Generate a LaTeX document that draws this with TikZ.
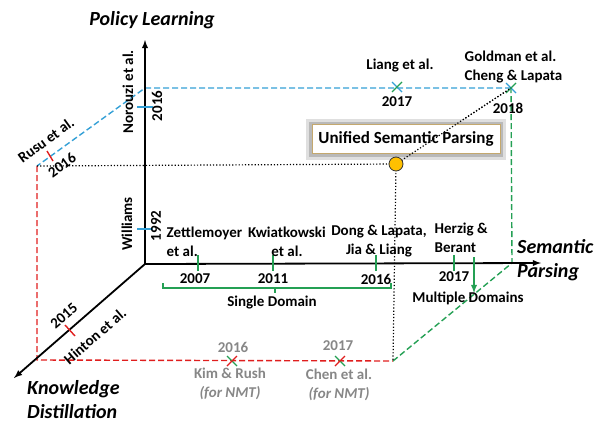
\documentclass[tikz,border=0pt]{standalone}
\usepackage{fontspec}
\setmainfont{Carlito}
\usepackage{tikz}
\usetikzlibrary{arrows}
\definecolor{plblue}{RGB}{52,160,214}
\definecolor{spgreen}{RGB}{36,160,84}
\definecolor{kdred}{RGB}{224,30,30}
\definecolor{ngray}{RGB}{135,135,135}
\definecolor{gold}{RGB}{255,192,0}
\definecolor{boxtan}{RGB}{196,168,110}
\newcommand{\xmark}[3]{% crossing mark at node #1, strokes in #2 and #3
  \draw[#2, line width=1.3pt] ([shift={(-5,-5)}]#1) -- ([shift={(5,5)}]#1);
  \draw[#3, line width=1.3pt] ([shift={(-5,5)}]#1) -- ([shift={(5,-5)}]#1);}
\tikzset{
  lbl/.style={font=\fontsize{15}{19}\selectfont\bfseries, inner sep=0.5pt},
  axlbl/.style={font=\fontsize{20}{24}\selectfont\bfseries\itshape, inner sep=0pt, align=left},
  nmt/.style={lbl, text=ngray},
  axis/.style={-latex, line width=1.8pt},
  dsh/.style={line width=1.4pt, dash pattern=on 6pt off 3pt},
  tick/.style={line width=1.4pt}
}
\begin{document}
\begin{tikzpicture}[x=1pt, y=-1pt]
\useasboundingbox (0,0) rectangle (602,423);
% corners of the box
\coordinate (O) at (145,264);
\coordinate (pl) at (145,40);
\coordinate (sp) at (541,263);
\coordinate (kd) at (14,378);
\coordinate (b1) at (145,88);
\coordinate (b2) at (37,166);
\coordinate (r2) at (37,360);
\coordinate (g1) at (393,361);
\coordinate (g2) at (512,263);
\coordinate (top) at (511,88);
\coordinate (usp) at (396,164);
\coordinate (liangx) at (397,87);
\coordinate (kimx) at (232,361);
\coordinate (chenx) at (340,361);

% dashed frame
\draw[dsh, plblue] (top) -- (b1) -- (b2);
\draw[dsh, kdred] (b2) -- (r2) -- (g1);
\draw[dsh, spgreen] (g1) -- (g2) -- (top);
\draw[dotted, line width=1.2pt] (b2) -- (usp) -- (g1) (usp) -- (top);

% axes
\draw[axis] (O) -- (pl);
\draw[axis] (O) -- (sp);
\draw[axis] (O) -- (kd);
\node[axlbl] (plab) at (152,20) {Policy Learning};
\node[axlbl, anchor=west] (splab) at (517,260) {Semantic\\Parsing};
\node[axlbl, anchor=west] (kdlab) at (27,400) {Knowledge\\Distillation};

% policy learning axis
\draw[tick, plblue] (137,107) -- (153,107);
\draw[tick, plblue] (137,229) -- (153,229);
\node[lbl, rotate=90] (norouzi) at (128,92) {Norouzi et al.};
\node[lbl, rotate=90] (y16a) at (157,106) {2016};
\node[lbl, rotate=90] (williams) at (127,224) {Williams};
\node[lbl, rotate=90] (y92) at (156,226) {1992};

% semantic parsing axis
\foreach \xx in {198,273,376,454}
  \draw[tick, spgreen] (\xx,255) -- (\xx,271);
\node[lbl, align=left, anchor=west] (zettle) at (166,242) {Zettlemoyer\\et al.};
\node[lbl, align=center] (kwiat) at (287,242) {Kwiatkowski\\et al.};
\node[lbl, align=center] (dong) at (379,241) {Dong \& Lapata,\\Jia \& Liang};
\node[lbl, align=left, anchor=west] (herzig) at (434,238) {Herzig \&\\Berant};
\node[lbl] (y07) at (195,279) {2007};
\node[lbl] (y11) at (273,279) {2011};
\node[lbl] (y16b) at (376,279) {2016};
\node[lbl] (y17a) at (454,277) {2017};
\draw[tick, spgreen] (163,283) |- (391,288) -- (391,283) (275,288) -- (275,293);
\node[lbl] (single) at (272,303) {Single Domain};
\draw[-latex, line width=1.8pt, spgreen] (474,257) -- (474,293);
\node[lbl] (multi) at (468,298) {Multiple Domains};

% top edge
\xmark{liangx}{plblue}{spgreen}
\node[lbl] (liang) at (400,66) {Liang et al.};
\node[lbl] (y17b) at (397,102) {2017};
\xmark{top}{plblue}{spgreen}
\node[lbl, align=left, anchor=west] (goldman) at (464,67) {Goldman et al.\\Cheng \& Lapata};
\node[lbl] (y18) at (508,108) {2018};

% policy learning + distillation edge
\draw[tick, kdred] (47,151) -- (53,161);
\node[lbl, rotate=36] (rusu) at (46,140) {Rusu et al.};
\node[lbl, rotate=36] (y16c) at (62,165) {2016};

% knowledge distillation axis
\draw[tick, kdred] (65,325) -- (75,336);
\node[lbl, rotate=41] (y15) at (64,316) {2015};
\node[lbl, rotate=41] (hinton) at (95,336) {Hinton et al.};

% bottom edge
\xmark{kimx}{spgreen}{kdred}
\node[nmt] (y16d) at (233,347) {2016};
\node[nmt, align=center] (kim) at (230,384) {Kim \& Rush\\\itshape(for NMT)};
\xmark{chenx}{spgreen}{kdred}
\node[nmt] (y17c) at (338,346) {2017};
\node[nmt, align=center] (chen) at (339,385) {Chen et al.\\\itshape(for NMT)};

% unified point
\node[draw=boxtan, fill=white, line width=0.6pt, minimum width=188pt, minimum height=29pt,
  preaction={draw=gray!25, line width=12pt}, preaction={draw=gray!55, line width=6pt},
  font=\fontsize{17}{20}\selectfont\bfseries] (unified) at (406,139) {Unified Semantic Parsing};
\draw[dotted, line width=1.2pt] (usp) -- (top);
\node[circle, draw=black!80, fill=gold, line width=0.8pt, minimum size=14pt, inner sep=0pt] (udot) at (usp) {};
\end{tikzpicture}
\end{document}
